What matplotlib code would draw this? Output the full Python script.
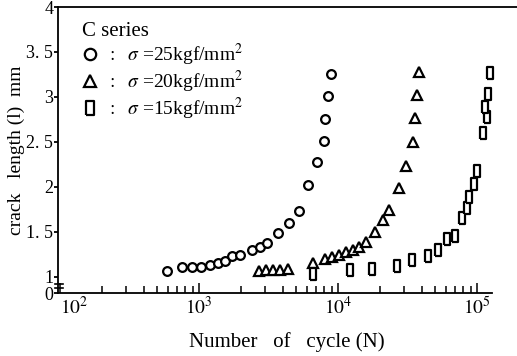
import numpy as np
import matplotlib
matplotlib.use("Agg")
import matplotlib.pyplot as plt
from matplotlib.transforms import blended_transform_factory

plt.rcParams['font.family'] = ['Liberation Serif', 'DejaVu Serif']
plt.rcParams['mathtext.fontset'] = 'stix'

# C series, sigma = 25 kgf/mm^2
n_25 = [589, 755, 891, 1034, 1200, 1370, 1538, 1727, 1972, 2405, 2749, 3085,
        3700, 4438, 5237, 6080, 7060, 7930, 8060, 8470, 8910]
l_25 = [1.07, 1.11, 1.11, 1.11, 1.13, 1.16, 1.18, 1.23, 1.24, 1.30, 1.33, 1.38,
        1.49, 1.60, 1.73, 2.02, 2.28, 2.51, 2.76, 3.01, 3.26]

# sigma = 20 kgf/mm^2
n_20 = [2700, 3036, 3405, 3827, 4370, 6610, 8060, 9060, 10160, 11420, 12830,
        14160, 15890, 18450, 21080, 23290, 27480, 30830, 34660, 35820, 37000, 38270]
l_20 = [1.07, 1.08, 1.08, 1.08, 1.09, 1.16, 1.20, 1.22, 1.24, 1.28, 1.30,
        1.33, 1.39, 1.50, 1.63, 1.74, 1.99, 2.23, 2.50, 2.77, 3.02, 3.28]

# sigma = 15 kgf/mm^2
n_15 = [6600, 12200, 17600, 26500, 34000, 44400, 52400, 60800, 69500, 78000,
        84700, 87600, 95100, 100000, 110000, 118000, 114000, 120000, 124000]
l_15 = [1.03, 1.08, 1.09, 1.12, 1.19, 1.23, 1.30, 1.42, 1.46, 1.66,
        1.77, 1.89, 2.03, 2.18, 2.60, 2.78, 2.89, 3.03, 3.27]

y_ticks = [0.822, 1, 1.5, 2, 2.5, 3, 3.5, 4]
y_labels = ['0', '1', '1. 5', '2', '2. 5', '3', '3. 5', '4']
x_ticks = [100, 1000, 10000, 100000]
x_labels = ['$10^2$', '$10^3$', '$10^4$', '$10^5$']

W, H = 517, 356
fig = plt.figure(figsize=(W / 100, H / 100), dpi=100)
ax = fig.add_axes([58 / W, 1 - 293 / H, (W - 58) / W, (293 - 7) / H])

# tall rectangle marker for the 15 kgf/mm2 series
rect = [(-0.3, -0.5), (0.3, -0.5), (0.3, 0.5), (-0.3, 0.5), (-0.3, -0.5)]

kw = dict(ls='none', mfc='white', mec='black', mew=1.6)
ax.plot(n_25, l_25, marker='o', ms=6.3, label=r'$:\ \ \sigma$ =25kgf/mm$^2$', **kw)
ax.plot(n_20, l_20, marker='^', ms=6.5, label=r'$:\ \ \sigma$ =20kgf/mm$^2$', **kw)
ax.plot(n_15, l_15, marker=rect, ms=8, label=r'$:\ \ \sigma$ =15kgf/mm$^2$', **kw)

ax.set_xscale('log')
ax.set_xlim(96.8, 10 ** 5.288)
ax.set_ylim(0.822, 4.0)

ax.spines['right'].set_visible(False)
ax.spines['bottom'].set_bounds(96.8, 10 ** 5.11)
for s in ['left', 'bottom', 'top']:
    ax.spines[s].set_linewidth(1.3)

ax.set_xticks(x_ticks)
ax.set_xticklabels(x_labels, fontsize=14)
ax.get_xticklabels()[0].set_horizontalalignment('left')
ax.tick_params(axis='x', which='major', direction='in', length=7, width=1.1, pad=2)
ax.tick_params(axis='x', which='minor', direction='in', length=5, width=1.1)
ax.set_yticks(y_ticks)
ax.set_yticklabels(y_labels, fontsize=13)
ax.tick_params(axis='y', direction='out', length=3, width=1.3, pad=0.5)

# axis break marks near the origin
tr = blended_transform_factory(ax.transAxes, ax.transData)
for yb in [0.922, 0.878]:
    ax.plot([-0.007, 0.011], [yb, yb], color='black', lw=1.2, transform=tr, clip_on=False)

ax.set_xlabel('Number   of   cycle (N)', fontsize=15)
ax.xaxis.set_label_coords((287 - 58) / (W - 58), -0.135)
ax.set_ylabel('crack   length (l)  mm', fontsize=14)
ax.yaxis.set_label_coords(-(58 - 25) / (W - 58), 0.5)

leg = ax.legend(title='C series', loc='upper left', frameon=False, fontsize=14,
                title_fontsize=15, bbox_to_anchor=(0.035, 0.975), handlelength=0.8,
                handletextpad=0.5, labelspacing=0.05, borderaxespad=0,
                markerscale=1.3)
leg._legend_box.align = 'left'

fig.savefig('out.png', dpi=100)
